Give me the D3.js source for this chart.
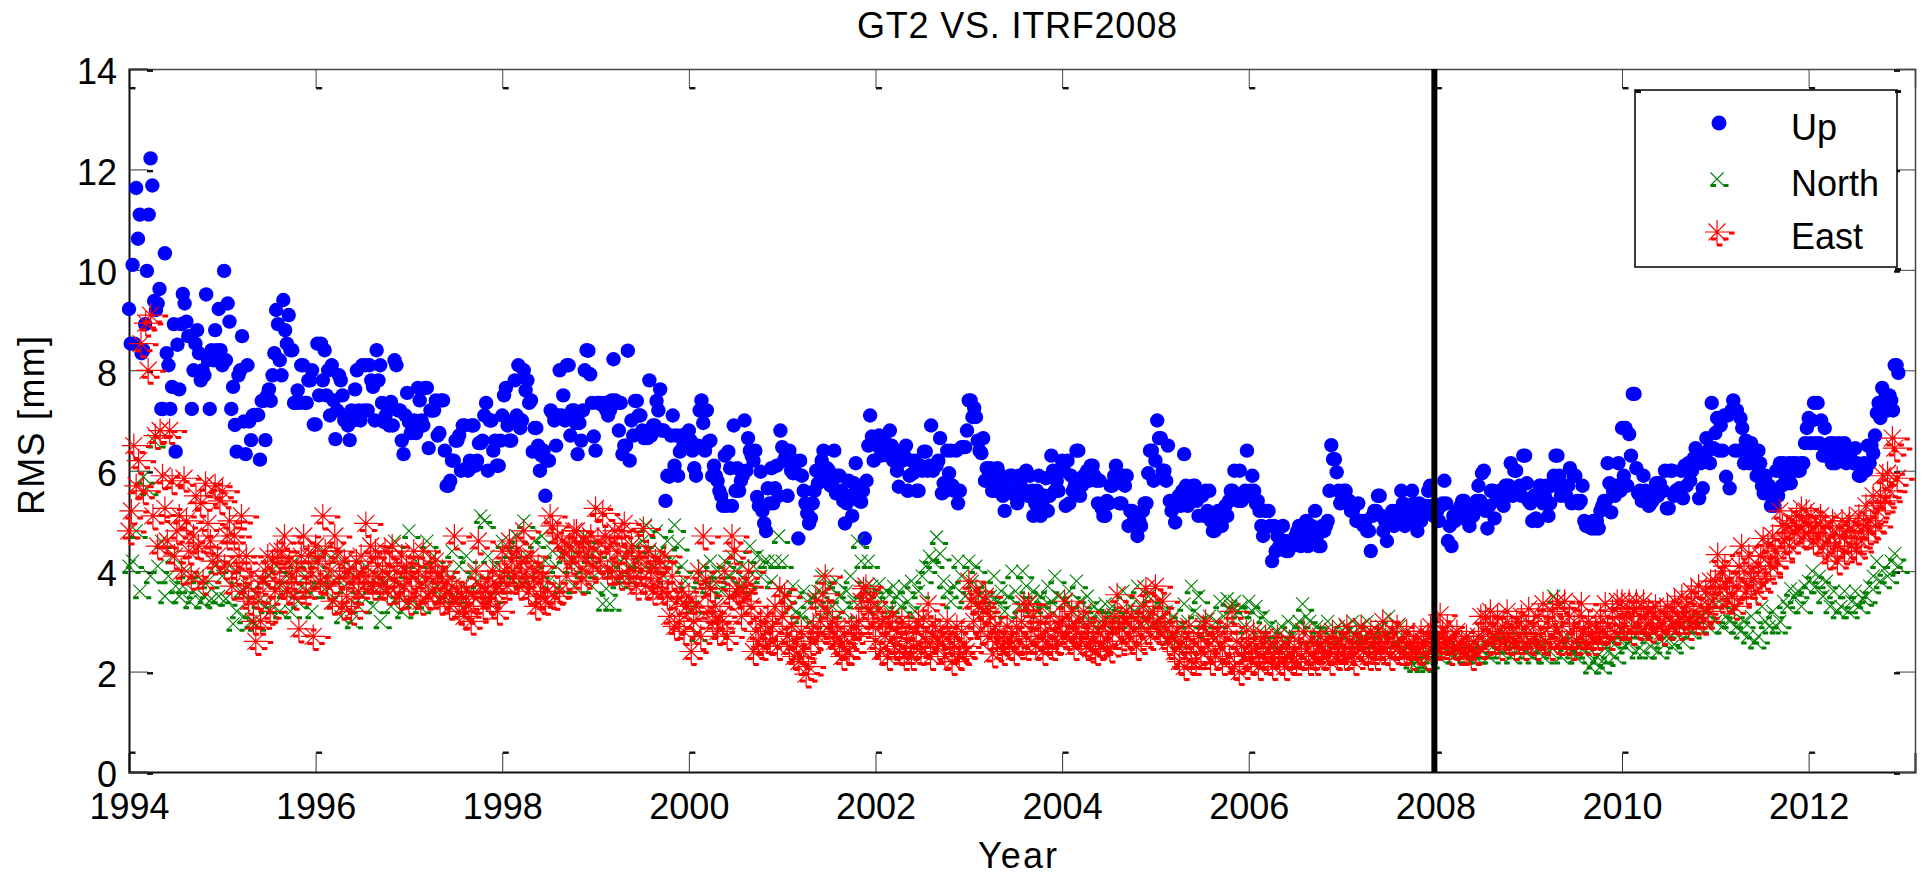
<!DOCTYPE html>
<html>
<head>
<meta charset="utf-8">
<script src="https://d3js.org/d3.v7.min.js"></script>
<style>
  body { margin: 0; background: #fff; }
  text { font-family: "Liberation Sans", Arial, sans-serif; fill: #000; }
</style>
</head>
<body>
<div id="chart"></div>
<script>
const years = d3.range(1994, 2013);
const xTicks = [1994, 1996, 1998, 2000, 2002, 2004, 2006, 2008, 2010, 2012];
const yTicks = [0, 2, 4, 6, 8, 10, 12, 14];

// one row per year, weekly
const up = [
  [9.22,8.53,10.1,8.53,11.63,10.62,11.1,8.34,8.4,8.92,9.98,11.1,12.22,11.68,9.38,9.2,9.33,9.62,7.23,7.23,10.33,8.34,8.1,7.23,7.67,8.92,6.38,8.51,7.62,8.92,9.52,9.33,8.97,8.68,8.68,7.23,8.0,8.53,8.8,8.34,7.8,8.0,7.9,9.51,8.2,7.23,8.4,8.2,8.8,8.4,9.22,8.4],
  [8.1,9.98,8.2,9.33,8.97,7.23,7.67,6.91,6.38,7.9,8.0,8.68,6.98,6.33,8.1,6.98,6.61,7.1,7.11,7.11,7.11,6.22,7.39,7.39,6.61,7.5,7.62,7.39,7.9,8.34,9.2,8.92,8.2,7.9,9.4,8.8,8.53,9.1,8.4,8.4,7.35,7.35,7.6,7.35,8.1,8.1,7.35,7.35,7.8,7.8,8.0,6.92],
  [6.92,8.53,7.5,8.53,7.8,8.4,7.5,8.0,7.1,8.1,7.4,6.63,7.2,7.9,7.8,7.5,7.0,7.1,6.9,6.61,7.2,7.0,7.62,8.0,7.2,7.0,8.1,7.2,8.1,7.2,8.1,7.8,7.67,7.0,8.4,7.8,8.1,7.35,6.97,7.1,7.3,6.9,7.37,6.9,8.2,8.1,7.2,7.2,6.6,6.33,7.1,7.55],
  [6.97,6.75,6.97,7.0,6.75,7.65,7.4,7.0,6.9,7.65,7.65,6.45,7.2,7.2,7.2,7.4,6.7,6.75,7.4,7.4,6.4,5.7,5.7,5.8,6.2,6.2,6.6,6.6,6.7,6.0,6.9,6.9,6.05,6.0,6.2,6.9,6.9,6.1,6.2,6.55,6.55,6.6,7.1,7.35,6.0,7.0,7.0,6.4,6.6,6.1,6.1,6.6],
  [7.1,7.5,7.65,6.9,6.6,6.6,7.0,7.8,7.1,8.1,6.85,7.0,8.0,7.6,7.8,7.35,7.4,6.38,6.85,6.85,6.5,6.0,6.3,6.4,5.5,6.2,6.2,7.2,7.15,7.0,6.5,7.1,8.0,7.1,7.5,7.0,8.1,8.1,6.7,7.2,7.2,6.95,6.33,6.95,6.6,7.2,8.0,8.4,8.39,7.92,7.35,6.68],
  [6.4,7.35,7.35,7.35,7.3,7.35,7.2,7.1,7.2,7.4,8.22,7.4,7.35,6.8,7.35,6.33,6.5,6.5,8.39,6.2,7.0,6.7,7.39,7.39,7.1,7.1,6.8,6.65,6.7,6.65,7.8,6.7,6.9,6.9,7.39,7.2,7.62,6.8,6.8,5.4,5.9,5.88,6.7,7.1,6.1,6.7,5.9,6.38,6.7,6.5,6.5,6.7],
  [6.8,6.6,6.4,6.05,5.9,6.5,7.2,7.4,6.95,6.4,7.2,6.58,6.6,5.9,6.1,5.9,5.8,5.6,5.5,5.3,6.3,5.3,6.38,6.05,5.3,6.9,5.6,6.05,5.6,5.8,5.9,7.0,6.0,6.65,6.4,6.3,6.2,6.4,5.48,5.3,5.98,5.2,4.95,4.8,5.65,5.35,6.05,5.35,5.65,6.1,5.5,6.8],
  [6.47,6.2,6.3,5.5,6.4,6.0,5.95,6.2,5.95,4.65,6.2,5.9,5.6,5.35,5.15,4.95,5.05,5.35,5.6,6.0,5.75,5.95,6.2,6.4,5.8,6.05,6.0,5.7,5.8,6.4,5.55,5.9,5.9,5.6,5.4,4.95,5.35,5.8,5.5,5.1,5.75,6.15,5.6,5.4,5.38,5.6,4.65,5.8,6.5,7.1,6.68,6.2],
  [6.6,6.5,6.7,6.3,6.5,6.6,6.5,6.3,6.8,6.5,6.2,6.4,6.0,5.68,6.3,6.2,6.3,6.5,5.6,5.9,6.2,5.95,6.2,5.6,5.6,6.1,6.0,6.38,6.38,6.0,6.1,6.9,6.0,6.1,6.1,6.2,6.65,5.55,5.75,5.6,6.4,5.95,6.4,5.7,5.6,6.4,5.35,5.6,6.47,6.47,6.47,6.8],
  [7.4,7.4,7.07,7.25,7.07,6.6,6.4,6.35,6.65,5.8,6.05,5.8,6.05,5.6,5.8,5.6,6.05,5.7,5.9,5.5,5.2,5.6,5.7,5.9,5.9,5.6,5.5,5.35,5.9,5.7,5.9,5.6,6.0,5.5,5.9,5.6,5.1,5.35,5.6,5.9,5.1,5.35,5.5,5.85,5.2,5.5,6.3,6.0,5.6,5.8,5.6,6.0],
  [6.2,6.0,5.3,6.2,5.35,5.9,5.6,5.7,6.4,6.4,5.5,5.7,5.9,5.9,6.0,5.8,6.1,6.1,5.9,5.8,5.35,5.8,5.25,5.1,5.1,5.4,5.35,5.7,5.7,5.9,6.1,5.9,5.35,5.35,5.9,5.7,5.9,4.9,5.2,5.2,5.1,5.1,4.7,5.0,4.9,5.2,5.35,5.35,5.95,6.4,6.4,5.8],
  [6.2,7.0,6.65,6.65,6.0,6.0,5.8,6.5,5.4,5.2,5.3,4.97,5.4,5.5,5.3,5.6,6.33,5.7,5.3,5.5,5.6,5.7,5.7,5.4,5.1,5.5,5.5,5.1,5.6,5.2,5.6,5.0,4.8,4.8,5.0,5.2,5.0,4.9,5.2,5.3,5.1,5.4,5.6,5.6,6.0,5.5,5.4,6.0,5.4,5.5,5.6,6.4],
  [5.5,5.6,5.9,5.6,5.35,5.4,5.2,4.9,4.7,5.2,5.2,5.2,4.9,4.2,4.9,4.4,4.7,4.5,4.55,4.9,4.6,4.4,4.4,4.6,4.5,4.6,4.7,4.8,4.9,4.5,4.9,4.7,5.0,4.5,4.8,4.9,4.8,5.2,4.7,4.5,4.5,4.9,4.8,4.9,5.0,5.6,6.51,6.23,6.23,5.97,5.6,5.35],
  [5.5,5.6,5.6,5.4,5.4,5.2,5.2,5.3,5.0,5.35,5.0,5.0,4.9,5.0,4.8,4.8,4.4,5.1,5.2,5.2,5.5,5.5,5.1,4.8,5.0,4.6,5.0,5.1,5.2,4.9,5.1,5.2,5.0,5.6,5.35,4.9,5.2,5.0,5.1,5.6,5.35,5.1,4.8,5.35,5.0,5.3,5.2,5.3,5.6,5.7,5.3,5.1],
  [5.3,5.2,5.0,5.3,5.35,5.8,5.35,4.6,4.9,4.5,5.1,5.0,5.2,5.1,5.3,5.4,5.4,5.3,5.0,4.9,5.2,5.1,5.2,5.4,5.7,5.4,5.95,6.0,5.2,4.85,5.3,5.6,5.6,5.05,5.5,5.4,5.6,5.5,5.3,5.7,5.7,5.7,6.15,5.5,6.0,6.0,5.6,5.7,5.5,6.3,6.3,5.75],
  [5.4,5.35,5.0,5.5,5.05,5.0,5.7,5.7,5.35,5.5,5.7,5.1,5.35,5.7,5.9,6.3,6.3,5.9,5.5,5.6,5.7,5.5,5.7,6.05,5.35,5.9,5.9,5.4,5.35,5.4,5.7,5.0,4.9,4.9,4.9,4.85,5.0,4.85,5.0,4.85,5.2,5.3,5.4,5.4,6.15,5.75,5.17,5.6,5.5,5.7,6.15,5.6],
  [6.85,5.9,6.85,5.7,6.73,6.3,7.53,7.53,6.05,5.55,5.6,5.4,5.9,5.6,5.4,5.3,5.35,5.4,5.6,5.75,5.5,5.75,5.6,5.6,6.0,5.25,5.25,6.0,6.0,5.5,5.6,5.6,5.65,6.0,5.45,6.1,5.7,6.15,5.8,6.0,6.25,6.45,6.3,5.45,6.15,5.65,6.3,6.65,6.4,6.15,7.35,6.45],
  [6.75,7.05,6.4,6.9,6.4,7.1,5.88,7.1,5.65,7.2,7.4,6.4,7.2,6.4,7.05,6.85,6.15,6.6,6.4,6.15,6.55,6.4,6.15,5.9,6.4,6.15,5.7,5.55,5.9,5.6,5.7,5.3,5.4,5.3,6.0,5.5,6.15,5.7,6.15,5.9,5.75,6.15,5.75,6.15,6.0,6.15,6.0,6.0,6.15,6.15,6.55,6.85],
  [7.05,6.55,7.0,7.35,6.55,7.35,6.55,7.0,6.3,6.85,6.3,6.4,6.55,6.15,6.55,6.15,6.3,6.55,6.2,6.3,6.55,6.15,6.3,6.3,6.4,6.15,6.45,6.15,5.9,5.9,6.0,6.15,6.0,6.5,6.15,6.5,6.35,6.7,7.15,7.35,7.05,7.65,7.25,7.5,7.2,7.5,7.4,7.2,8.1,8.1,7.95]
];

// one row per year, 26 values
const north = [
  [4.1,4.2,4.8,3.6,5.88,5.65,3.9,6.6,4.1,4.6,3.5,3.9,4.3,3.7,3.5,3.7,4.0,3.4,3.6,3.9,3.4,3.5,3.8,3.45,4.1,3.5],
  [3.9,3.45,4.1,2.95,3.2,3.6,3.1,3.7,3.0,2.95,3.4,3.8,3.3,3.9,3.3,4.1,3.2,3.6,3.9,3.2,4.2,3.4,3.7,3.9,3.6,3.2],
  [4.2,3.8,4.4,3.6,3.9,3.4,4.3,3.1,3.7,4.0,3.0,3.9,3.3,3.5,4.1,3.7,3.3,3.9,3.0,3.6,3.9,3.3,4.6,3.5,3.2,4.0],
  [4.8,3.4,4.2,3.3,3.9,4.6,3.6,4.3,3.7,3.5,4.0,3.6,4.4,3.5,4.1,3.7,4.3,3.6,4.0,3.8,5.1,5.0,4.3,3.5,4.1,3.7],
  [4.6,3.9,4.4,4.0,4.7,3.8,5.0,4.3,3.9,4.6,4.0,4.7,4.2,3.8,4.4,4.1,3.7,4.3,4.5,4.1,3.7,4.4,4.0,4.7,4.3,3.7],
  [4.4,4.0,3.35,3.65,3.35,4.1,3.8,4.2,3.9,4.4,4.1,4.5,4.2,4.6,4.92,4.4,4.1,4.8,4.4,3.9,4.6,4.2,4.92,4.55,4.1,3.8],
  [3.5,3.3,2.75,3.9,4.1,3.7,4.2,3.8,4.0,3.6,4.2,3.9,4.3,4.0,3.7,4.1,3.8,4.5,4.1,4.3,3.9,4.2,4.2,3.8,4.2,4.7],
  [4.2,3.5,3.3,3.7,3.2,3.1,3.6,3.4,3.0,3.5,3.6,3.9,3.2,3.7,3.3,3.8,3.5,3.2,3.6,3.9,3.4,4.6,4.2,3.6,4.2,3.7],
  [3.3,3.75,3.4,3.6,3.2,3.7,3.5,3.3,3.7,3.4,3.8,3.2,3.6,3.9,4.1,4.3,4.2,4.68,4.35,3.8,3.6,3.4,3.7,4.2,3.9,3.5],
  [4.2,3.8,4.1,3.5,3.7,3.3,3.5,3.9,3.4,3.6,3.2,3.5,4.0,3.6,3.3,4.0,3.7,3.4,3.6,3.2,3.5,3.3,3.7,3.4,3.9,3.5],
  [3.0,3.4,3.6,3.2,3.8,3.4,3.1,3.5,3.0,3.3,3.2,3.0,3.35,3.1,3.3,3.0,3.2,3.6,3.0,3.3,3.2,3.7,3.3,3.0,3.5,3.2],
  [3.0,3.4,2.9,3.2,2.7,3.1,2.6,2.9,3.35,3.0,3.7,3.2,3.5,3.0,2.8,3.1,2.7,3.0,3.4,3.1,3.45,3.3,3.4,3.2,3.3,2.9],
  [3.4,3.2,3.3,2.8,3.1,2.6,2.9,2.5,2.8,2.9,2.6,3.0,2.7,2.9,3.0,3.35,3.1,3.0,2.7,2.9,2.5,2.8,3.0,2.7,2.6,2.9],
  [2.7,2.9,2.8,3.0,2.6,2.9,2.7,3.0,2.8,2.6,2.8,2.9,2.7,3.1,2.8,2.6,2.9,2.7,2.5,2.2,2.13,2.3,2.13,2.4,2.2,2.5],
  [2.6,2.3,2.7,2.4,2.6,2.3,2.5,2.4,2.3,2.6,2.4,2.3,2.5,2.4,2.6,2.3,2.5,2.7,2.4,2.8,2.5,2.3,2.6,2.9,2.6,2.4],
  [2.5,2.3,2.7,2.5,2.3,2.6,2.4,3.5,2.8,2.3,2.55,2.7,2.4,2.3,2.5,2.6,2.4,2.1,2.2,2.3,2.1,2.25,2.4,2.6,2.3,2.7],
  [2.8,2.5,2.6,2.9,2.4,2.8,2.4,2.7,2.5,2.8,2.4,2.6,2.8,2.65,2.5,2.8,2.9,2.6,3.0,2.8,3.1,2.9,3.1,3.2,2.9,3.4],
  [3.0,3.4,2.9,3.1,3.0,3.2,2.9,2.8,3.0,2.7,3.1,2.6,2.7,3.3,3.0,2.9,3.2,2.9,3.0,3.4,3.3,3.65,3.5,3.6,3.3,3.7],
  [3.8,4.0,3.7,3.9,3.5,3.8,3.3,3.6,3.2,3.3,3.6,3.2,3.4,3.6,3.3,3.45,3.5,3.7,3.9,4.2,3.8,4.05,3.9,4.2,4.35,4.1]
];

// one row per year, 39 values
const east = [
  [4.8,5.2,6.5,5.7,6.2,8.53,5.6,8.94,8.0,9.1,5.1,6.7,4.5,6.8,5.9,5.25,4.6,6.8,5.8,4.3,4.8,5.1,4.0,5.85,5.0,4.4,3.9,4.7,5.5,4.5,5.35,3.8,5.75,4.95,4.6,4.2,5.7,4.3,5.4],
  [5.6,4.1,4.7,5.0,3.7,4.7,4.0,4.3,5.1,3.6,4.3,3.4,3.9,3.0,2.6,3.5,3.0,3.8,4.0,4.3,3.2,4.2,3.6,4.4,3.8,4.4,4.7,3.6,4.2,3.9,3.5,4.0,2.85,4.3,4.7,3.6,4.3,3.9,2.7],
  [4.5,4.2,3.8,5.1,4.4,3.7,4.0,3.4,4.7,4.4,3.9,3.3,4.2,3.5,4.0,3.2,3.8,4.2,3.6,4.3,3.9,4.95,3.9,4.5,3.7,4.4,4.1,3.7,4.0,4.4,3.6,4.1,4.5,3.8,4.0,3.5,4.3,3.7,4.1],
  [3.4,3.9,4.4,3.6,4.0,3.4,4.4,3.8,3.5,4.1,3.6,4.2,3.9,3.4,4.0,3.5,3.8,3.3,3.7,4.7,3.6,3.2,3.5,3.1,3.6,3.3,3.0,3.5,4.0,4.6,3.7,3.3,3.6,3.8,3.4,4.0,3.6,3.2,3.9],
  [4.4,4.0,3.7,4.6,4.2,3.9,4.4,3.7,4.2,4.8,4.0,3.6,4.3,3.8,3.3,4.1,3.5,3.9,3.4,3.6,5.1,4.9,3.5,4.7,3.6,4.6,4.4,3.9,4.5,4.2,4.8,4.8,4.3,3.8,4.6,4.0,4.4,4.7,4.1],
  [5.25,4.6,4.2,5.15,4.7,4.0,4.5,4.0,4.8,4.4,3.9,4.8,4.95,4.3,3.9,4.5,4.0,3.7,4.3,4.0,4.85,3.7,4.4,4.0,3.6,4.2,3.8,4.2,3.6,4.3,3.5,3.1,3.9,2.9,3.4,3.0,3.6,2.8,3.3],
  [3.5,2.4,3.0,3.3,4.0,2.7,4.7,3.8,3.2,3.65,3.0,3.3,2.8,3.1,3.0,4.0,2.7,3.5,4.7,4.4,3.6,3.65,3.1,3.4,3.7,4.0,3.3,2.4,2.8,2.6,3.0,2.5,2.8,3.1,2.6,2.9,3.3,2.5,3.65],
  [3.1,3.5,2.7,2.5,2.9,2.3,2.6,2.2,2.8,2.4,1.95,2.1,2.6,2.9,3.4,2.7,3.0,3.55,3.9,3.2,2.8,3.0,2.6,2.9,2.5,2.3,2.7,2.4,2.4,2.9,2.7,2.9,3.0,3.4,3.65,3.7,3.2,3.4,2.9],
  [2.6,3.2,2.4,3.0,2.7,2.3,2.9,3.1,2.5,2.8,2.4,3.0,2.3,2.6,2.9,2.3,2.5,2.8,3.0,2.4,3.05,2.6,3.35,2.3,2.7,2.9,2.5,2.8,2.7,2.3,3.0,2.6,2.2,2.5,2.9,2.3,2.8,2.5,2.4],
  [3.8,3.4,3.0,3.6,3.3,2.8,3.2,3.5,2.7,3.1,2.35,2.9,2.6,2.8,2.4,2.6,2.9,2.5,2.7,2.4,2.9,2.6,3.0,3.35,2.5,3.35,2.8,3.1,2.5,2.7,3.0,2.4,2.8,2.6,3.1,2.5,2.8,2.6,3.0],
  [3.0,3.4,2.7,2.9,3.2,2.5,2.8,3.0,2.6,3.2,2.5,2.9,2.45,2.7,2.4,2.8,2.5,2.9,3.0,2.6,2.45,2.8,3.1,3.53,2.9,2.6,3.0,3.2,2.7,3.1,2.8,2.5,3.0,2.7,3.3,3.65,3.0,2.7,3.2],
  [3.7,3.0,2.8,3.4,2.9,2.6,3.0,2.7,2.4,2.8,2.2,2.6,2.1,2.5,2.9,2.2,2.6,2.2,2.7,2.4,2.9,3.0,2.5,2.2,2.7,2.3,2.8,2.5,2.2,2.6,2.9,2.3,3.2,2.1,2.6,2.0,2.5,2.3,2.8],
  [2.5,2.2,2.8,2.4,2.1,2.6,2.3,2.7,2.2,2.5,2.1,2.4,2.7,2.2,2.5,2.1,2.3,2.6,2.2,2.4,2.2,2.6,2.3,2.8,2.4,2.2,2.6,2.3,2.2,2.5,2.7,2.3,2.6,2.4,2.2,2.8,2.5,2.3,2.6],
  [2.5,2.3,2.9,2.6,2.4,2.2,2.7,2.5,2.9,2.4,2.6,2.3,2.8,2.5,2.3,2.7,2.5,3.0,2.4,2.6,2.3,2.8,2.5,2.9,2.4,2.6,2.4,2.8,2.5,2.3,2.7,2.5,2.4,2.8,2.6,2.3,2.7,2.9,2.5],
  [2.7,2.5,3.13,2.8,2.6,2.9,2.4,2.7,2.5,2.8,2.4,2.6,2.4,2.7,2.5,2.3,2.6,2.4,2.7,3.1,2.8,3.1,2.6,3.2,2.9,2.7,3.1,2.5,2.9,2.7,3.2,2.6,2.9,2.5,3.0,2.7,3.1,2.5,2.9],
  [3.25,2.6,2.9,2.5,3.1,2.7,3.35,2.6,3.0,2.5,3.2,2.8,3.4,2.6,2.9,3.4,2.6,3.1,2.5,2.9,2.6,3.1,3.35,2.8,2.6,3.0,2.7,2.6,2.9,2.7,3.1,2.8,3.35,2.9,2.7,3.2,2.8,3.4,2.9],
  [3.4,2.9,3.1,3.4,2.8,3.2,3.4,2.9,3.1,3.4,2.9,3.2,2.85,3.1,3.3,2.9,3.2,2.8,3.1,3.3,2.9,3.2,3.4,3.0,2.9,3.5,3.1,3.3,2.9,3.6,3.2,3.0,3.7,3.3,3.0,3.6,3.2,3.8,3.4],
  [3.8,4.33,3.7,4.0,4.1,3.45,3.8,3.5,3.3,3.7,4.1,4.5,4.0,3.6,4.3,3.8,3.85,3.6,4.1,4.3,4.65,3.9,4.5,4.1,4.7,4.4,4.2,5.2,4.9,4.6,4.9,4.5,5.0,4.8,5.1,4.9,5.25,4.7,5.2],
  [4.9,5.1,4.6,4.9,4.7,5.1,4.5,4.9,4.3,4.7,5.0,4.5,4.2,4.7,5.0,4.4,4.8,5.05,4.5,4.8,4.4,5.1,4.6,4.9,5.3,4.8,5.0,5.5,4.9,5.2,5.5,5.9,5.4,5.95,5.6,6.65,6.45,5.85]
];

const seriesNames = ["Up", "North", "East"];
const splitYear = 2008;

const width = 1922, height = 873;
const plotLeft = 129, plotRight = 1915, plotTop = 69, plotBottom = 772;

const svg = d3.select("#chart")
  .append("svg")
  .attr("width", width)
  .attr("height", height)
  .style("display", "block");

const x = d3.scaleLinear().domain([1994, 2013.14]).range([plotLeft, plotRight]);
const y = d3.scaleLinear().domain([0, 14]).range([plotBottom, plotTop]);

// markers, dashes hanging off them like the exported MATLAB figure
const defs = svg.append("defs");
const northMark = defs.append("g").attr("id", "m-north");
northMark.append("path")
  .attr("d", "M-6.5,-6.5L6.5,6.5M6.5,-6.5L-6.5,6.5")
  .attr("stroke", "#008000").attr("stroke-width", 1.1).attr("fill", "none");
northMark.append("path")
  .attr("d", "M-6.5,6.5H-1M6.5,6.5H11.5")
  .attr("stroke", "#008000").attr("stroke-width", 3).attr("fill", "none");

const eastMark = defs.append("g").attr("id", "m-east");
eastMark.append("path")
  .attr("d", "M-12,0H12M0,-12V13M-8.5,-8.5L8.5,8.5M8.5,-8.5L-8.5,8.5")
  .attr("stroke", "#ff0000").attr("stroke-width", 1.2).attr("fill", "none");
eastMark.append("path")
  .attr("d", "M12,1H17.5M6,7H11.5M-6,7H-0.5M0,13H5.5")
  .attr("stroke", "#ff0000").attr("stroke-width", 3).attr("fill", "none");

// flatten year rows to points
function points(rows, perYear) {
  return rows.flatMap((row, i) => row.map((v, j) => ({ t: years[i] + j / perYear, v: v })));
}

function dashes(g, dx, dy) {
  g.selectAll(".tick").append("rect")
    .attr("x", dx).attr("y", dy)
    .attr("width", 6).attr("height", 2.4)
    .attr("fill", "#111");
}

// axes first, so the marks sit over the ticks
const axisBottom = svg.append("g")
  .attr("transform", `translate(0,${plotBottom})`)
  .call(d3.axisBottom(x).tickValues(xTicks).tickFormat(d3.format("d")).tickSize(-19).tickPadding(0));
const axisTop = svg.append("g")
  .attr("transform", `translate(0,${plotTop})`)
  .call(d3.axisTop(x).tickValues(xTicks).tickFormat("").tickSize(-19));
const axisLeft = svg.append("g")
  .attr("transform", `translate(${plotLeft},0)`)
  .call(d3.axisLeft(y).tickValues(yTicks).tickSize(-19).tickPadding(0));
const axisRight = svg.append("g")
  .attr("transform", `translate(${plotRight},0)`)
  .call(d3.axisRight(y).tickValues(yTicks).tickFormat("").tickSize(-19));

[axisBottom, axisLeft].forEach(g => {
  g.select(".domain").attr("stroke", "#111").attr("stroke-width", 2);
  g.selectAll(".tick line").attr("stroke", "#333").attr("stroke-width", 1);
});
[axisTop, axisRight].forEach(g => {
  g.select(".domain").attr("stroke", "#444").attr("stroke-width", 1.5);
  g.selectAll(".tick line").attr("stroke", "#444").attr("stroke-width", 1);
});

dashes(axisBottom, 0, -20.5);
dashes(axisTop, 0, 18);
dashes(axisLeft, 18, 0);
dashes(axisRight, -21, 0);

axisBottom.selectAll("text")
  .attr("y", 21).attr("dy", "0.71em").style("font-size", "36px")
  .style("font-family", '"Liberation Sans", Arial, sans-serif');
axisLeft.selectAll("text")
  .attr("x", -12).attr("dy", "0.41em").style("font-size", "36px")
  .style("font-family", '"Liberation Sans", Arial, sans-serif');

// series
svg.append("g").selectAll("circle")
  .data(points(up, 52))
  .join("circle")
    .attr("cx", d => x(d.t))
    .attr("cy", d => y(d.v))
    .attr("r", 7.2)
    .attr("fill", "#0000ff");

svg.append("g").selectAll("use")
  .data(points(north, 26))
  .join("use")
    .attr("href", "#m-north")
    .attr("x", d => x(d.t))
    .attr("y", d => y(d.v));

svg.append("g").selectAll("use")
  .data(points(east, 39))
  .join("use")
    .attr("href", "#m-east")
    .attr("x", d => x(d.t))
    .attr("y", d => y(d.v));

// 2008 split
svg.append("line")
  .attr("x1", x(splitYear) - 1).attr("x2", x(splitYear) - 1)
  .attr("y1", plotTop).attr("y2", plotBottom)
  .attr("stroke", "#000").attr("stroke-width", 6);

// legend
const legend = svg.append("g");
legend.append("rect")
  .attr("x", 1635).attr("y", 90).attr("width", 262).attr("height", 177)
  .attr("fill", "#fff").attr("stroke", "#000").attr("stroke-width", 1.5);
[[1635, 90], [1895, 90], [1895, 268]].forEach(c => {
  legend.append("rect").attr("x", c[0]).attr("y", c[1]).attr("width", 6).attr("height", 3).attr("fill", "#111");
});
const legendY = [140, 196, 249];
legend.selectAll("text")
  .data(seriesNames)
  .join("text")
    .attr("x", 1791)
    .attr("y", (d, i) => legendY[i])
    .style("font-size", "36px")
    .text(d => d);
legend.append("circle").attr("cx", 1719).attr("cy", 123).attr("r", 7.5).attr("fill", "#0000ff");
legend.append("use").attr("href", "#m-north").attr("x", 1717).attr("y", 179);
legend.append("use").attr("href", "#m-east").attr("x", 1717).attr("y", 232);

// labels
svg.append("text")
  .attr("x", 857).attr("y", 38)
  .attr("textLength", 320)
  .style("font-size", "36px")
  .text("GT2 VS. ITRF2008");
svg.append("text")
  .attr("x", 978).attr("y", 868)
  .attr("textLength", 79)
  .style("font-size", "36px")
  .text("Year");
svg.append("text")
  .attr("transform", "translate(44,515) rotate(-90)")
  .attr("textLength", 179)
  .style("font-size", "36px")
  .text("RMS [mm]");
</script>
</body>
</html>
